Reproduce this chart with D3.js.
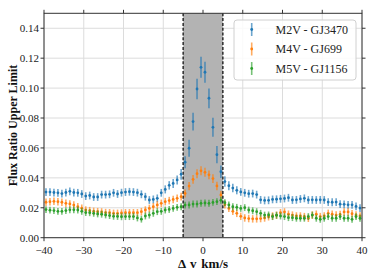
<!DOCTYPE html>
<html>
<head>
<meta charset="utf-8">
<script src="https://cdn.jsdelivr.net/npm/d3@7"></script>
<style>
html,body{margin:0;padding:0;background:#fff;}
svg{display:block;}
</style>
</head>
<body>
<svg id="chart" width="374" height="280"></svg>
<script>
const velocity = [-39.5,-38.5,-37.5,-36.5,-35.5,-34.5,-33.5,-32.5,-31.5,-30.5,-29.5,-28.5,-27.5,-26.5,-25.5,-24.5,-23.5,-22.5,-21.5,-20.5,-19.5,-18.5,-17.5,-16.5,-15.5,-14.5,-13.5,-12.5,-11.5,-10.5,-9.5,-8.5,-7.5,-6.5,-5.5,-4.5,-3.5,-2.5,-1.5,-0.5,0.5,1.5,2.5,3.5,4.5,5.5,6.5,7.5,8.5,9.5,10.5,11.5,12.5,13.5,14.5,15.5,16.5,17.5,18.5,19.5,20.5,21.5,22.5,23.5,24.5,25.5,26.5,27.5,28.5,29.5,30.5,31.5,32.5,33.5,34.5,35.5,36.5,37.5,38.5,39.5];

const m2v = [0.0305,0.0305,0.0302,0.0300,0.0295,0.0302,0.0310,0.0302,0.0300,0.0292,0.0278,0.0282,0.0272,0.0272,0.0288,0.0288,0.0290,0.0300,0.0292,0.0301,0.0305,0.0307,0.0305,0.0301,0.0290,0.0274,0.0252,0.0256,0.0263,0.0300,0.0323,0.0350,0.0363,0.0386,0.0424,0.0505,0.0598,0.0776,0.0994,0.1139,0.1106,0.0932,0.0738,0.0555,0.0441,0.0375,0.0348,0.0332,0.0317,0.0306,0.0300,0.0294,0.0295,0.0288,0.0253,0.0249,0.0250,0.0256,0.0257,0.0260,0.0262,0.0267,0.0252,0.0253,0.0259,0.0263,0.0252,0.0253,0.0252,0.0253,0.0252,0.0238,0.0237,0.0238,0.0224,0.0223,0.0220,0.0220,0.0209,0.0198];
const m2vErr = [0.0026,0.0026,0.0026,0.0026,0.0026,0.0026,0.0026,0.0026,0.0026,0.0026,0.0026,0.0026,0.0026,0.0026,0.0026,0.0026,0.0026,0.0026,0.0026,0.0026,0.0026,0.0026,0.0026,0.0026,0.0026,0.0026,0.0026,0.0026,0.0026,0.0026,0.0027,0.0028,0.0030,0.0030,0.0036,0.0040,0.0057,0.0060,0.0068,0.0070,0.0070,0.0066,0.0064,0.0058,0.0042,0.0035,0.0030,0.0029,0.0027,0.0026,0.0026,0.0026,0.0026,0.0026,0.0026,0.0026,0.0026,0.0026,0.0026,0.0026,0.0026,0.0026,0.0026,0.0026,0.0026,0.0026,0.0026,0.0026,0.0026,0.0026,0.0026,0.0026,0.0026,0.0026,0.0026,0.0026,0.0026,0.0026,0.0026,0.0026];

const m4v = [0.0237,0.0241,0.0243,0.0241,0.0237,0.0230,0.0226,0.0218,0.0207,0.0197,0.0185,0.0181,0.0176,0.0174,0.0172,0.0168,0.0167,0.0163,0.0163,0.0165,0.0167,0.0167,0.0167,0.0167,0.0174,0.0185,0.0196,0.0207,0.0219,0.0230,0.0241,0.0248,0.0256,0.0263,0.0274,0.0296,0.0345,0.0390,0.0428,0.0447,0.0437,0.0420,0.0395,0.0346,0.0286,0.0222,0.0196,0.0176,0.0163,0.0143,0.0132,0.0128,0.0126,0.0126,0.0128,0.0132,0.0140,0.0145,0.0150,0.0167,0.0172,0.0157,0.0151,0.0145,0.0145,0.0141,0.0130,0.0151,0.0157,0.0141,0.0145,0.0163,0.0157,0.0151,0.0155,0.0172,0.0172,0.0160,0.0151,0.0145];
const m4vErr = [0.0025,0.0025,0.0025,0.0025,0.0025,0.0025,0.0025,0.0025,0.0025,0.0025,0.0025,0.0025,0.0025,0.0025,0.0025,0.0025,0.0025,0.0025,0.0025,0.0025,0.0025,0.0025,0.0025,0.0025,0.0025,0.0025,0.0025,0.0025,0.0025,0.0025,0.0025,0.0025,0.0025,0.0025,0.0026,0.0027,0.0028,0.0029,0.0030,0.0030,0.0030,0.0030,0.0029,0.0028,0.0027,0.0026,0.0025,0.0025,0.0025,0.0025,0.0025,0.0025,0.0025,0.0025,0.0025,0.0025,0.0025,0.0025,0.0025,0.0025,0.0025,0.0025,0.0025,0.0025,0.0025,0.0025,0.0025,0.0025,0.0025,0.0025,0.0025,0.0025,0.0025,0.0025,0.0025,0.0025,0.0025,0.0025,0.0025,0.0025];

const m5v = [0.0188,0.0184,0.0181,0.0176,0.0176,0.0181,0.0186,0.0186,0.0185,0.0176,0.0168,0.0167,0.0163,0.0159,0.0157,0.0152,0.0148,0.0143,0.0142,0.0140,0.0141,0.0141,0.0141,0.0132,0.0124,0.0145,0.0151,0.0163,0.0174,0.0176,0.0185,0.0189,0.0196,0.0203,0.0207,0.0218,0.0219,0.0225,0.0225,0.0230,0.0232,0.0230,0.0236,0.0241,0.0250,0.0234,0.0219,0.0207,0.0203,0.0196,0.0201,0.0185,0.0180,0.0174,0.0163,0.0151,0.0152,0.0141,0.0150,0.0145,0.0141,0.0134,0.0134,0.0130,0.0130,0.0130,0.0141,0.0151,0.0130,0.0123,0.0130,0.0141,0.0130,0.0130,0.0141,0.0130,0.0130,0.0123,0.0141,0.0130];
const m5vErr = [0.0023,0.0023,0.0023,0.0023,0.0023,0.0023,0.0023,0.0023,0.0023,0.0023,0.0023,0.0023,0.0023,0.0023,0.0023,0.0023,0.0023,0.0023,0.0023,0.0023,0.0023,0.0023,0.0023,0.0023,0.0023,0.0023,0.0023,0.0023,0.0023,0.0023,0.0023,0.0023,0.0023,0.0023,0.0023,0.0023,0.0023,0.0023,0.0023,0.0023,0.0023,0.0023,0.0023,0.0023,0.0023,0.0023,0.0023,0.0023,0.0023,0.0023,0.0023,0.0023,0.0023,0.0023,0.0023,0.0023,0.0023,0.0023,0.0023,0.0023,0.0023,0.0023,0.0023,0.0023,0.0023,0.0023,0.0023,0.0023,0.0023,0.0023,0.0023,0.0023,0.0023,0.0023,0.0023,0.0023,0.0023,0.0023,0.0023,0.0023];

const seriesNames = ["M2V - GJ3470", "M4V - GJ699", "M5V - GJ1156"];
const seriesColors = ["#1f77b4", "#ff7f0e", "#2ca02c"];
const xTicks = [-40,-30,-20,-10,0,10,20,30,40];
const yTicks = [0.00,0.02,0.04,0.06,0.08,0.10,0.12,0.14];
const shadeRange = [-5, 5];
const xLabel = "Δ v km/s";
const yLabel = "Flux Ratio Upper Limit";

const svg = d3.select("#chart");
const L = 44, R = 362, T = 13.3, B = 237.7;
const x = d3.scaleLinear().domain([-40, 40]).range([L, R]);
const y = d3.scaleLinear().domain([0, 0.15]).range([B, T]);
const font = "'Liberation Serif', 'DejaVu Serif', serif";

// grid
const grid = svg.append("g");
grid.selectAll("line.gx").data(xTicks).join("line")
  .attr("x1", d => x(d)).attr("x2", d => x(d)).attr("y1", T).attr("y2", B)
  .attr("stroke", "#dcdcdc").attr("stroke-width", 1);
grid.selectAll("line.gy").data(yTicks).join("line")
  .attr("y1", d => y(d)).attr("y2", d => y(d)).attr("x1", L).attr("x2", R)
  .attr("stroke", "#dcdcdc").attr("stroke-width", 1);

// shaded region
svg.append("rect")
  .attr("x", x(shadeRange[0])).attr("width", x(shadeRange[1]) - x(shadeRange[0]))
  .attr("y", T).attr("height", B - T)
  .attr("fill", "#b3b3b3");
svg.selectAll("line.vl").data(shadeRange).join("line")
  .attr("x1", d => x(d)).attr("x2", d => x(d)).attr("y1", T).attr("y2", B)
  .attr("stroke", "#111").attr("stroke-width", 1.3).attr("stroke-dasharray", "3,1.8");

// data
const series = [
  {name: seriesNames[0], vals: m2v, err: m2vErr, color: seriesColors[0]},
  {name: seriesNames[1], vals: m4v, err: m4vErr, color: seriesColors[1]},
  {name: seriesNames[2], vals: m5v, err: m5vErr, color: seriesColors[2]}
];
series.forEach(s => {
  const g = svg.append("g");
  const pts = velocity.map((v, i) => ({v, y: s.vals[i], e: s.err[i]}));
  g.selectAll("line").data(pts).join("line")
    .attr("x1", d => x(d.v)).attr("x2", d => x(d.v))
    .attr("y1", d => y(d.y - d.e)).attr("y2", d => y(d.y + d.e))
    .attr("stroke", s.color).attr("stroke-opacity", 0.65).attr("stroke-width", 1.6);
  g.selectAll("circle").data(pts).join("circle")
    .attr("cx", d => x(d.v)).attr("cy", d => y(d.y)).attr("r", 1.4)
    .attr("fill", s.color);
});

// axes frame
svg.append("rect").attr("x", L).attr("y", T).attr("width", R - L).attr("height", B - T)
  .attr("fill", "none").attr("stroke", "#333").attr("stroke-width", 1);

const tl = 3.5;
const ticks = svg.append("g").attr("stroke", "#333").attr("stroke-width", 1);
xTicks.forEach(t => {
  ticks.append("line").attr("x1", x(t)).attr("x2", x(t)).attr("y1", B).attr("y2", B + tl);
  ticks.append("line").attr("x1", x(t)).attr("x2", x(t)).attr("y1", T).attr("y2", T - tl);
});
yTicks.forEach(t => {
  ticks.append("line").attr("y1", y(t)).attr("y2", y(t)).attr("x1", L).attr("x2", L - tl);
  ticks.append("line").attr("y1", y(t)).attr("y2", y(t)).attr("x1", R).attr("x2", R + tl);
});

svg.append("g").selectAll("text").data(xTicks).join("text")
  .attr("x", d => x(d)).attr("y", B + 16)
  .attr("text-anchor", "middle").attr("font-family", font).attr("font-size", 11).attr("fill", "#222")
  .text(d => d < 0 ? "\u2212" + Math.abs(d) : String(d));
svg.append("g").selectAll("text").data(yTicks).join("text")
  .attr("x", L - 5).attr("y", d => y(d) + 3.8)
  .attr("text-anchor", "end").attr("font-family", font).attr("font-size", 11).attr("fill", "#222")
  .text(d => d.toFixed(2));

svg.append("text").attr("x", (L + R) / 2).attr("y", 268)
  .attr("text-anchor", "middle").attr("font-family", font).attr("font-size", 13).attr("font-weight", "bold").attr("fill", "#111")
  .attr("word-spacing", 1.5)
  .text(xLabel);
svg.append("text").attr("transform", `translate(16.5,${(T + B) / 2}) rotate(-90)`)
  .attr("text-anchor", "middle").attr("font-family", font).attr("font-size", 12).attr("font-weight", "bold").attr("fill", "#111")
  .text(yLabel);

// legend
const lg = svg.append("g");
lg.append("rect").attr("x", 234).attr("y", 20).attr("width", 122).attr("height", 60).attr("rx", 3)
  .attr("fill", "#fff").attr("fill-opacity", 0.85).attr("stroke", "#d0d0d0").attr("stroke-width", 1);
series.forEach((s, i) => {
  const cy = 29.5 + i * 19.5;
  lg.append("line").attr("x1", 251.7).attr("x2", 251.7).attr("y1", cy - 6.5).attr("y2", cy + 6.5)
    .attr("stroke", s.color).attr("stroke-opacity", 0.65).attr("stroke-width", 1.6);
  lg.append("circle").attr("cx", 251.7).attr("cy", cy).attr("r", 1.4).attr("fill", s.color);
  lg.append("text").attr("x", 275.5).attr("y", cy + 4.2)
    .attr("font-family", font).attr("font-size", 12).attr("fill", "#222").text(s.name);
});
</script>
</body>
</html>
